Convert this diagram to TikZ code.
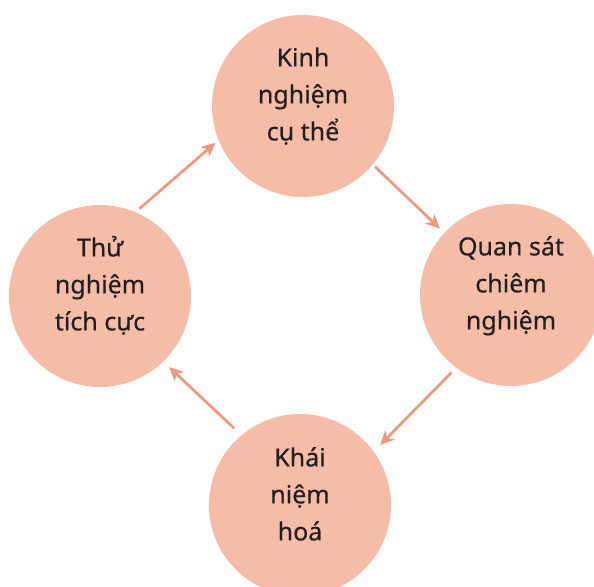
\documentclass[tikz,border=0pt]{standalone}
\usepackage{fontspec}
\setmainfont{Noto Sans}
\newfontfamily\lblfont[FakeBold=0.35]{Noto Sans}
\usetikzlibrary{arrows.meta}
\definecolor{circfill}{RGB}{245,188,167}
\definecolor{arrowc}{RGB}{239,152,125}
\definecolor{txtc}{RGB}{35,31,32}
\begin{document}
\begin{tikzpicture}[x=1pt,y=-1pt,
  circ/.style={circle, fill=circfill, minimum size=182pt, inner sep=0pt},
  lbl/.style={align=center, font=\lblfont\fontsize{25}{37}\selectfont, text=txtc, inner sep=0pt},
  arr/.style={draw=arrowc, line width=2.7pt, -{Stealth[length=14pt,width=13pt,inset=4pt]}}]
\useasboundingbox (0,0) rectangle (594,586);
\begin{scope}
\clip (0,0) rectangle (594,586);
\node[circ] (top) at (303,106) {};
\node[circ] (right) at (511,295) {};
\node[circ] (bottom) at (300,505) {};
\node[circ] (left) at (100,296) {};
\end{scope}
\node[lbl] (ltop) at ([yshift=10pt]top.center) {\strut Kinh\\nghiệm\\cụ thể\strut};
\node[lbl] (lright) at ([yshift=10pt]right.center) {\strut Quan sát\\chiêm\\nghiệm\strut};
\node[lbl] (lbottom) at ([yshift=9pt]bottom.center) {\strut Khái\\niệm\\hoá\strut};
\node[lbl] (lleft) at ([yshift=10pt]left.center) {\strut Thử\\nghiệm\\tích cực\strut};
\draw[arr, shorten <=5pt, shorten >=4pt] (left.67.7) -- (top.202.2);
\draw[arr, shorten <=3pt, shorten >=6pt] (top.320.6) -- (right.137.1);
\draw[arr, shorten <=6.5pt, shorten >=9pt] (right.233.1) -- (bottom.36.5);
\draw[arr, shorten <=10pt, shorten >=8pt] (bottom.130.8) -- (left.314.2);
\end{tikzpicture}
\end{document}
